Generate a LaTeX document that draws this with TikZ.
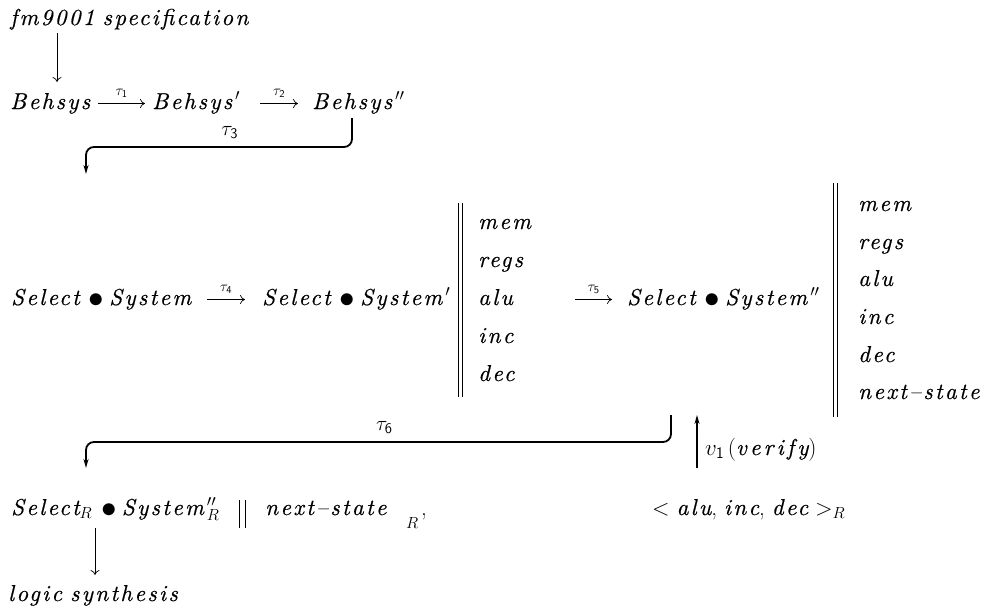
\RequirePackage{fix-cm}
\documentclass[tikz,border=0pt]{standalone}
\usepackage{fontspec}
\usepackage{graphicx}
\usetikzlibrary{arrows.meta,calc}
\newfontfamily\itf[LetterSpace=10,FakeBold=0.5]{lmroman10-italic.otf}
\newfontfamily\itfw[LetterSpace=14,FakeBold=0.5]{lmroman10-italic.otf}
\newcommand\w[1]{{\itf #1}}
\newcommand\ww[1]{{\itfw #1}}
\newcommand\bul{\hspace{9pt}\raisebox{-2pt}{\scalebox{1.35}{$\bullet$}}\hspace{5pt}}
\newcommand\pr[1]{\hspace{3pt}$#1$}
\begin{document}
\begin{tikzpicture}[x=1pt,y=-1pt,
  txt/.style={anchor=base west, inner sep=0pt, font=\fontsize{23}{27}\selectfont},
  thinarrow/.style={line width=0.7pt, -{Computer Modern Rightarrow[length=5pt,width=9pt]}},
  bendarrow/.style={line width=1.8pt, rounded corners=8pt, -{Stealth[length=9pt,width=5pt]}},
  uparrow/.style={line width=1.8pt, -{Stealth[length=9pt,width=5pt]}},
  bars/.style={line width=0.7pt},
  smlab/.style={inner sep=0pt, font=\fontsize{21}{25}\selectfont},
  biglab/.style={inner sep=0pt, font=\fontsize{21}{25}\selectfont}]
\useasboundingbox (0,0) rectangle (983,614);

% top
\node[txt] (spec) at (10,25) {\w{fm9001\hspace{8pt}specification}};
\node[txt] (b0) at (10,109) {\w{Behsys}};
\node[txt] (b1) at (152,109) {\w{Behsys}\pr{'}};
\node[txt] (b2) at (312,109) {\w{Behsys}\pr{''}};
\draw[thinarrow] ($(spec.base west)+(47,8)$) -- ($(b0.base west)+(47,-27)$);
\draw[thinarrow] ($(b0.base west)+(88,-5.5)$) -- node[smlab,midway,yshift=10pt]{$\scriptstyle\tau_{\mathsf 1}$} ($(b1.base west)+(-7,-5.5)$);
\draw[thinarrow] ($(b1.base west)+(108,-5.5)$) -- node[smlab,midway,yshift=10pt]{$\scriptstyle\tau_{\mathsf 2}$} ($(b2.base west)+(-14,-5.5)$);
\coordinate (t3end) at (86,174);
\draw[bendarrow] ($(b2.base west)+(40,9)$) -- ++(0,29) -- node[biglab,pos=0.46,yshift=14pt]{$\tau_{\mathsf 3}$} ($(t3end)+(0,-27)$) -- (t3end);

% middle row
\node[txt] (s0) at (11,305) {\w{Select}\bul\w{System}};
\node[txt] (s1) at (262,305) {\w{Select}\bul\w{System}\pr{'}};
\draw[thinarrow] ($(s0.base west)+(196,-5.5)$) -- node[smlab,midway,yshift=10pt]{$\scriptstyle\tau_{\mathsf 4}$} ($(s1.base west)+(-17,-5.5)$);
\draw[bars] (458,203) -- (458,397) (462,203) -- (462,397);
\node[txt] (l1) at (478,229) {\w{mem}};
\node[txt] (l2) at (478,267) {\w{regs}};
\node[txt] (l3) at (478,305) {\w{alu}};
\node[txt] (l4) at (478,343) {\w{inc}};
\node[txt] (l5) at (478,381) {\w{dec}};
\node[txt] (s2) at (627,305) {\w{Select}\bul\w{System}\pr{''}};
\draw[thinarrow] ($(s2.base west)+(-52,-5.5)$) -- node[smlab,midway,yshift=10pt]{$\scriptstyle\tau_{\mathsf 5}$} ($(s2.base west)+(-15,-5.5)$);
\draw[bars] (833,183) -- (833,417) (837,183) -- (837,417);
\node[txt] (m1) at (858,211) {\w{mem}};
\node[txt] (m2) at (858,249) {\w{regs}};
\node[txt] (m3) at (858,286) {\w{alu}};
\node[txt] (m4) at (858,324) {\w{inc}};
\node[txt] (m5) at (858,362) {\w{dec}};
\node[txt] (m6) at (858,399) {\w{next–state}};

% tau6 loop
\coordinate (t6end) at (86,468);
\draw[bendarrow] ($(s2.base west)+(44,110)$) -- ++(0,27) -- node[biglab,pos=0.49,yshift=14pt]{$\tau_{\mathsf 6}$} ($(t6end)+(0,-26)$) -- (t6end);

% bottom row
\node[txt] (r0) at (11,515) {\w{Select}$_R$\bul\w{System}\pr{''_R}};
\draw[bars] (239,500) -- (239,528) (245,500) -- (245,528);
\node[txt] (ns) at (265,515) {\w{next–state}};
\node[txt] (rs) at (406,528) {$\scriptstyle R$};
\node[txt] (rc) at (421,515) {,};
\node[txt] (tup) at (652,515) {$<$ \w{alu}, \w{inc}, \w{dec} $>_R$};
\draw[uparrow] ($(tup.base west)+(45,-47)$) -- ++(0,-53);
\node[txt] (v1) at (705,455) {$v_{\mathsf 1}\,($\ww{verify}$)$};
\node[txt] (ls) at (8,601) {\w{logic\hspace{8pt}synthesis}};
\draw[thinarrow] ($(r0.base west)+(84,13)$) -- ($(ls.base west)+(87,-26)$);
\end{tikzpicture}
\end{document}
